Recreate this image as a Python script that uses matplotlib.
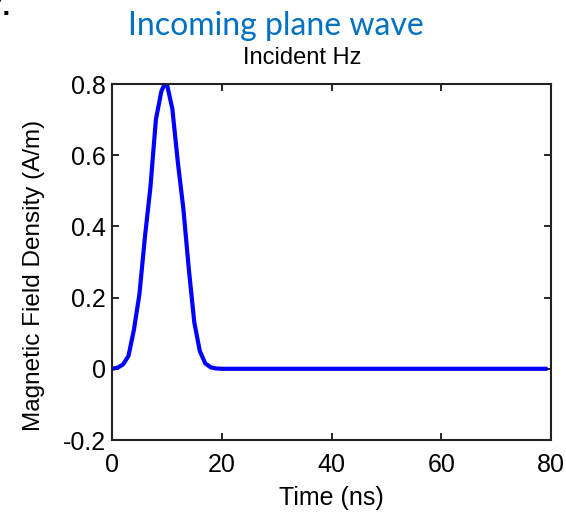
import matplotlib
matplotlib.use("Agg")
import matplotlib.pyplot as plt
import numpy as np

# Data
time_peak = [0, 1, 2, 3, 4, 5, 6, 7, 8, 9, 9.6, 10, 11, 12, 13, 14, 15, 16, 17, 18, 19, 20]
hz_peak = [0.0, 0.003, 0.012, 0.036, 0.11, 0.21, 0.37, 0.51, 0.70, 0.78, 0.80, 0.80, 0.73,
           0.58, 0.45, 0.28, 0.13, 0.05, 0.015, 0.004, 0.001, 0.0]
time_tail = [30, 40, 50, 60, 70, 79]
hz_tail = [0, 0, 0, 0, 0, 0]
time_ns = time_peak + time_tail
hz = hz_peak + hz_tail

x_ticks = [0, 20, 40, 60, 80]
y_ticks = [-0.2, 0, 0.2, 0.4, 0.6, 0.8]
y_tick_labels = ["-0.2", "0", "0.2", "0.4", "0.6", "0.8"]

plt.rcParams['font.family'] = ['Liberation Sans', 'DejaVu Sans']

fig = plt.figure(figsize=(5.66, 5.12), dpi=100)
ax = fig.add_axes([112/566, 1 - 440/512, (551-112)/566, (440-84)/512])

ax.plot(time_ns, hz, color='#0000FF', linewidth=3.0, solid_joinstyle='round')
ax.set_xlim(0, 80)
ax.set_ylim(-0.2, 0.8)
ax.set_xticks(x_ticks)
ax.set_xticklabels([str(t) for t in x_ticks])
ax.set_yticks(y_ticks)
ax.set_yticklabels(y_tick_labels)
ax.tick_params(direction='in', length=5, width=1.2, top=True, right=True,
               labelsize=18, colors='black')
ax.tick_params(axis='x', pad=9.5)
ax.tick_params(axis='y', pad=4.5)
for s in ax.spines.values():
    s.set_linewidth(1.5)
    s.set_color('#222222')

ax.set_xlabel("Time (ns)", fontsize=18)
ax.xaxis.set_label_coords(0.5, -0.128)
ax.set_ylabel("Magnetic Field Density (A/m)", fontsize=17.5)
ax.yaxis.set_label_coords(-0.153, 0.462)

fig.text(276/566, 1 - 35/512, "Incoming plane wave", fontsize=23, color='#0070C0',
         family=['Lato', 'DejaVu Sans'], ha='center', va='baseline')
fig.text(302/566, 1 - 64/512, "Incident Hz", fontsize=17, color='black',
         ha='center', va='baseline')
fig.text(11/566, 1 - 15/512, "7.", fontsize=20, fontweight='bold', color='black',
         ha='right', va='baseline')

fig.savefig("out.png", dpi=100)
